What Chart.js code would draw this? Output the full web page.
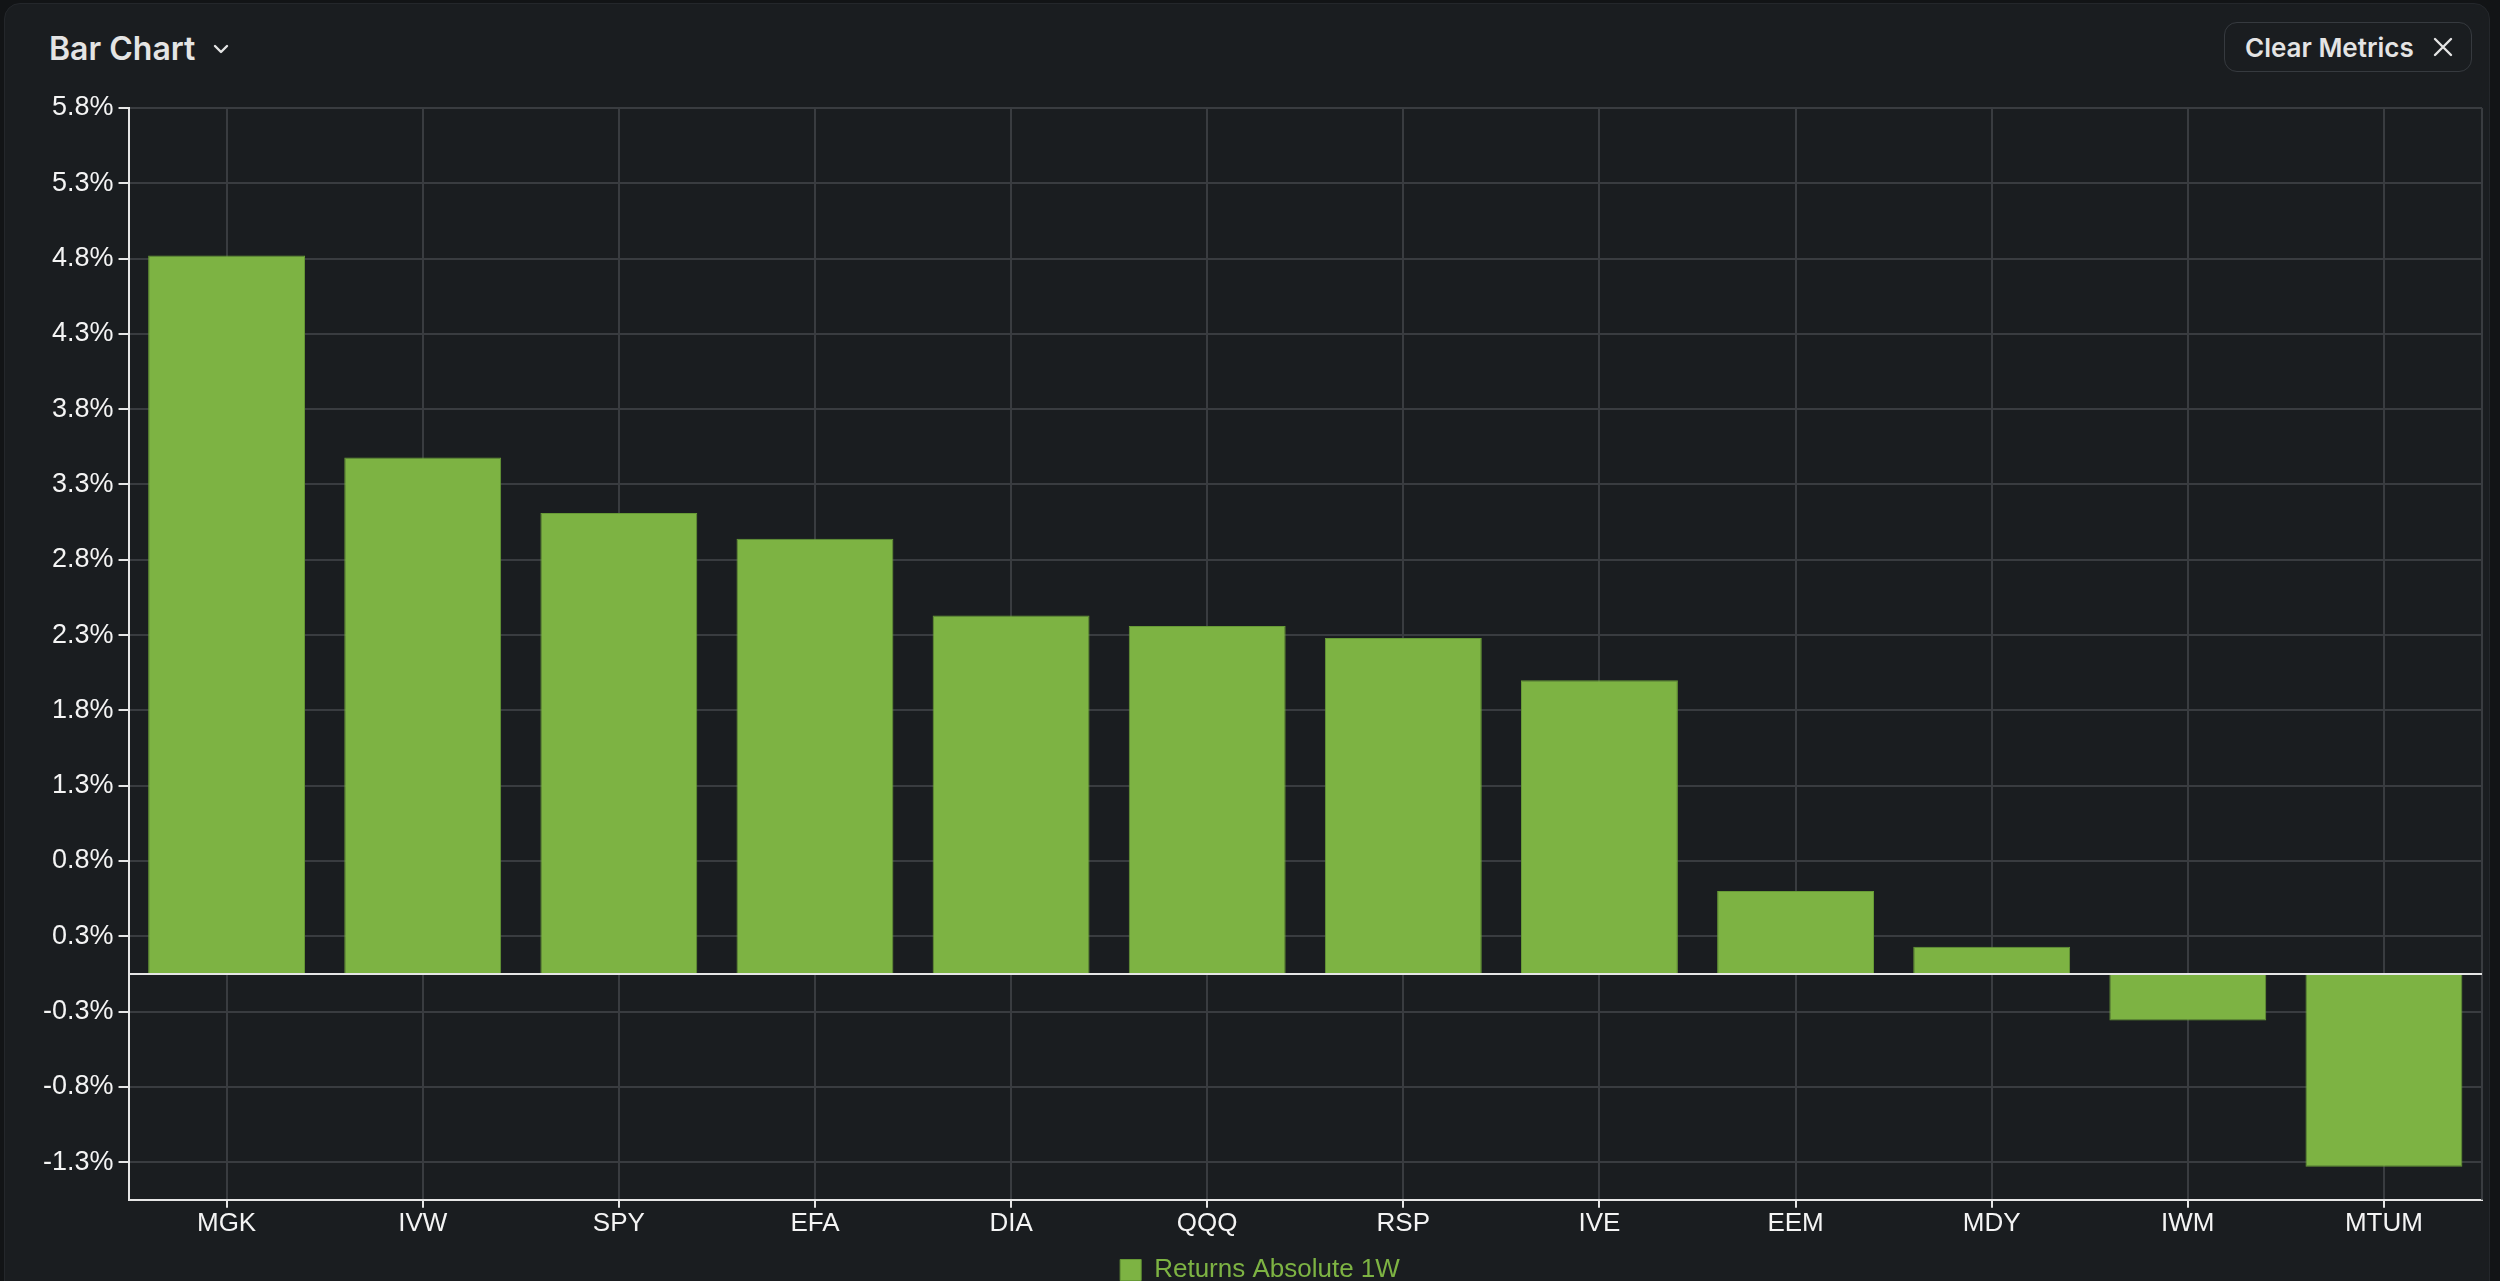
<!DOCTYPE html>
<html>
<head>
<meta charset="utf-8">
<title>Bar Chart</title>
<script src="https://cdn.jsdelivr.net/npm/chart.js@4.4.1/dist/chart.umd.min.js"></script>
<style>
  html, body { margin: 0; padding: 0; background: #121416; width: 2500px; height: 1281px; overflow: hidden; }
  .panel {
    position: absolute; left: 4px; top: 3px; width: 2486px; height: 1300px;
    background: #1a1d20; border: 1px solid #24272b; border-radius: 16px; box-sizing: border-box;
  }
  .title {
    position: absolute; left: 49px; top: 29px; font-family: Inter, sans-serif; font-weight: 600;
    font-size: 32px; color: #e4e4e4; display: flex; align-items: center; gap: 18px;
  }
  .btn {
    position: absolute; left: 2224px; top: 22px; width: 248px; height: 50px; box-sizing: border-box;
    border: 1px solid #363a3f; border-radius: 13px; display: flex; align-items: center;
    font-family: Inter, sans-serif; font-weight: 600; font-size: 26px; color: #e4e4e4; padding-left: 20px; gap: 18px;
  }
  .chart-box { position: absolute; left: 0; top: 80px; width: 2500px; height: 1213px; }
</style>
</head>
<body>
<div class="panel"></div>
<div class="title">Bar Chart
  <svg width="16" height="12" viewBox="0 0 16 12"><polyline points="2,3 8,9 14,3" fill="none" stroke="#e4e4e4" stroke-width="2.4" stroke-linecap="round" stroke-linejoin="round"/></svg>
</div>
<div class="btn">Clear Metrics
  <svg width="22" height="22" viewBox="0 0 22 22"><path d="M3 3 L19 19 M19 3 L3 19" stroke="#e4e4e4" stroke-width="2.4" stroke-linecap="round"/></svg>
</div>
<div class="chart-box"><canvas id="chart"></canvas></div>
<script>
// tickers and their 1W absolute returns (%)
const tickers = ['MGK', 'IVW', 'SPY', 'EFA', 'DIA', 'QQQ', 'RSP', 'IVE', 'EEM', 'MDY', 'IWM', 'MTUM'];
const returns1W = [4.77, 3.43, 3.06, 2.89, 2.38, 2.31, 2.23, 1.95, 0.55, 0.18, -0.31, -1.28];
const yTickValues = [5.75, 5.25, 4.75, 4.25, 3.75, 3.25, 2.75, 2.25, 1.75, 1.25, 0.75, 0.25, -0.25, -0.75, -1.25];
const yTickLabels = ['5.8%', '5.3%', '4.8%', '4.3%', '3.8%', '3.3%', '2.8%', '2.3%', '1.8%', '1.3%', '0.8%', '0.3%', '-0.3%', '-0.8%', '-1.3%'];
const yMin = -1.5;
const yMax = 5.75;

const green = '#7db343';
const gridColor = '#393c40';
const axisColor = '#e6e6e6';

// white zero line + right edge line
const extraLines = {
  id: 'extraLines',
  afterDatasetsDraw(chart) {
    const { ctx, chartArea, scales } = chart;
    const y0 = scales.y.getPixelForValue(0);
    ctx.save();
    ctx.strokeStyle = gridColor;
    ctx.lineWidth = 2;
    ctx.beginPath();
    ctx.moveTo(chartArea.right, chartArea.top);
    ctx.lineTo(chartArea.right, chartArea.bottom);
    ctx.stroke();
    ctx.strokeStyle = axisColor;
    ctx.beginPath();
    ctx.moveTo(chartArea.left, y0);
    ctx.lineTo(chartArea.right, y0);
    ctx.stroke();
    ctx.restore();
  }
};

new Chart(document.getElementById('chart').getContext('2d'), {
  type: 'bar',
  data: {
    labels: tickers,
    datasets: [{
      label: 'Returns Absolute 1W',
      data: returns1W,
      backgroundColor: green,
      borderColor: '#679a36',
      borderWidth: 1,
      barPercentage: 0.8,
      categoryPercentage: 1.0
    }]
  },
  options: {
    responsive: true,
    maintainAspectRatio: false,
    animation: false,
    layout: { padding: { top: 28, left: 38, right: 18, bottom: 0 } },
    plugins: {
      tooltip: { enabled: false },
      legend: {
        position: 'bottom',
        labels: {
          color: green,
          boxWidth: 21,
          boxHeight: 21,
          padding: 18,
          font: { family: 'Liberation Sans', size: 26 }
        }
      }
    },
    scales: {
      x: {
        grid: { color: gridColor, lineWidth: 2, offset: false, tickColor: axisColor, tickLength: 8 },
        border: { color: axisColor, width: 2 },
        ticks: { color: '#f4f4f4', padding: 0, font: { family: 'Liberation Sans', size: 26 } }
      },
      y: {
        min: yMin,
        max: yMax,
        afterBuildTicks(scale) {
          scale.ticks = yTickValues.map(v => ({ value: v }));
        },
        grid: { color: gridColor, lineWidth: 2, tickColor: axisColor, tickLength: 10 },
        border: { color: axisColor, width: 2 },
        ticks: {
          color: '#f4f4f4',
          padding: 5,
          font: { family: 'Liberation Sans', size: 27 },
          callback: (value, i) => yTickLabels[i]
        }
      }
    }
  },
  plugins: [extraLines]
});
</script>
</body>
</html>
